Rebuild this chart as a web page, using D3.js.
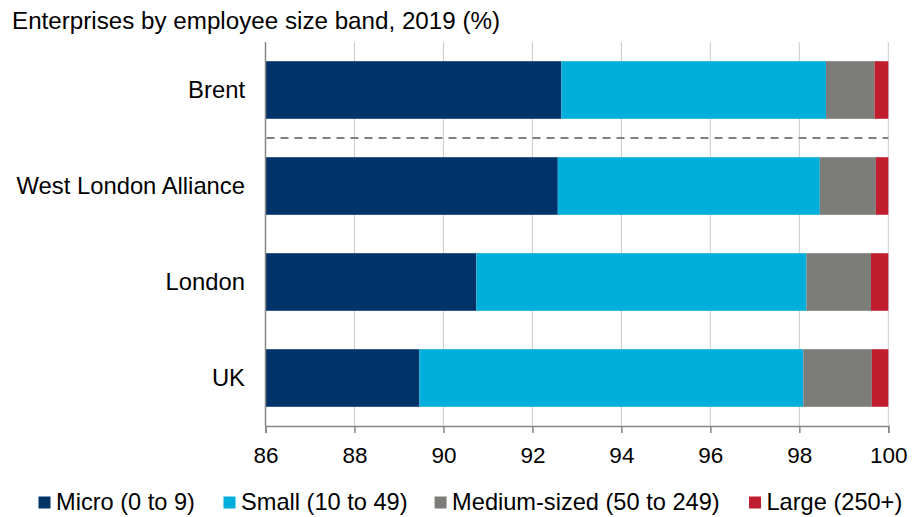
<!DOCTYPE html>
<html>
<head>
<meta charset="utf-8">
<script src="https://cdn.jsdelivr.net/npm/d3@7/dist/d3.min.js"></script>
<style>
  html, body { margin: 0; padding: 0; background: #fff; }
  svg { display: block; font-family: "Liberation Sans", Arial, sans-serif; }
</style>
</head>
<body>
<svg id="chart" width="915" height="517"></svg>
<script>
const title = "Enterprises by employee size band, 2019 (%)";
const categories = ["Brent", "West London Alliance", "London", "UK"];
const seriesNames = ["Micro (0 to 9)", "Small (10 to 49)", "Medium-sized (50 to 249)", "Large (250+)"];
const seriesKeys = ["micro", "small", "medium", "large"];
const micro  = [92.65, 92.57, 90.74, 89.46];
const small  = [5.95, 5.89, 7.42, 8.63];
const medium = [1.09, 1.26, 1.45, 1.54];
const large  = [0.31, 0.28, 0.39, 0.37];
const xTicks = [86, 88, 90, 92, 94, 96, 98, 100];
const colors = ["#003469", "#00aedc", "#7c7c78", "#be1e2d"];

const rows = categories.map((c, i) => ({
  category: c, micro: micro[i], small: small[i], medium: medium[i], large: large[i]
}));

const svg = d3.select("#chart");
const plotLeft = 265.5, plotRight = 888.3, plotTop = 42, plotBottom = 426;

const x = d3.scaleLinear().domain([86, 100]).range([plotLeft, plotRight]).clamp(true);
const y = d3.scaleBand().domain(categories).range([plotTop, plotBottom]).paddingInner(0.4).paddingOuter(0.2);

// Title
svg.append("text").attr("x", 12).attr("y", 29)
  .attr("font-size", 24.2).attr("fill", "#000").text(title);

// Gridlines
svg.append("g").selectAll("line").data(xTicks.slice(1)).join("line")
  .attr("x1", d => x(d)).attr("x2", d => x(d))
  .attr("y1", plotTop).attr("y2", plotBottom)
  .attr("stroke", "#cacaca").attr("stroke-width", 1);

// Bars
const stack = d3.stack().keys(seriesKeys);
const stacked = stack(rows);
svg.append("g").selectAll("g").data(stacked).join("g")
  .attr("fill", (d, i) => colors[i])
  .selectAll("rect").data(d => d).join("rect")
  .attr("x", d => x(d[0]))
  .attr("width", d => Math.max(0, x(d[1]) - x(d[0])))
  .attr("y", d => y(d.data.category))
  .attr("height", y.bandwidth());

// Dashed separator between Brent and West London Alliance
const sepY = (y("Brent") + y.bandwidth() + y("West London Alliance")) / 2;
svg.append("line")
  .attr("x1", plotLeft + 1).attr("x2", plotRight)
  .attr("y1", sepY).attr("y2", sepY)
  .attr("stroke", "#808080").attr("stroke-width", 2)
  .attr("stroke-dasharray", "8,6");

// X axis
const xAxis = d3.axisBottom(x).tickValues(xTicks).tickSize(7).tickFormat(d3.format("d"));
const gx = svg.append("g").attr("transform", `translate(0,${plotBottom})`).call(xAxis);
gx.select(".domain").attr("stroke", "#868686").attr("stroke-width", 1.5);
gx.selectAll(".tick line").attr("stroke", "#868686").attr("stroke-width", 1.5);
gx.selectAll(".tick text").attr("font-size", 22.5).attr("fill", "#000")
  .attr("font-family", "'Liberation Sans', Arial, sans-serif")
  .attr("y", 0).attr("dy", null).attr("transform", "translate(0,37)");

// Y axis line
svg.append("line").attr("x1", plotLeft).attr("x2", plotLeft).attr("y1", plotTop).attr("y2", plotBottom)
  .attr("stroke", "#868686").attr("stroke-width", 1.5);

// Y labels
svg.append("g").selectAll("text").data(categories).join("text")
  .attr("x", 245).attr("y", d => y(d) + y.bandwidth() / 2 + 8.3)
  .attr("text-anchor", "end").attr("font-size", 23.8).attr("fill", "#000")
  .text(d => d);

// Legend
const legendX = [38.5, 223.5, 434.6, 749];
const lg = svg.append("g").selectAll("g").data(seriesNames).join("g")
  .attr("transform", (d, i) => `translate(${legendX[i]},0)`);
lg.append("rect").attr("x", 0).attr("y", 496.5).attr("width", 12).attr("height", 12)
  .attr("fill", (d, i) => colors[i]);
lg.append("text").attr("x", 17.5).attr("y", 510).attr("font-size", 23.6).attr("fill", "#000")
  .text(d => d);
</script>
</body>
</html>
